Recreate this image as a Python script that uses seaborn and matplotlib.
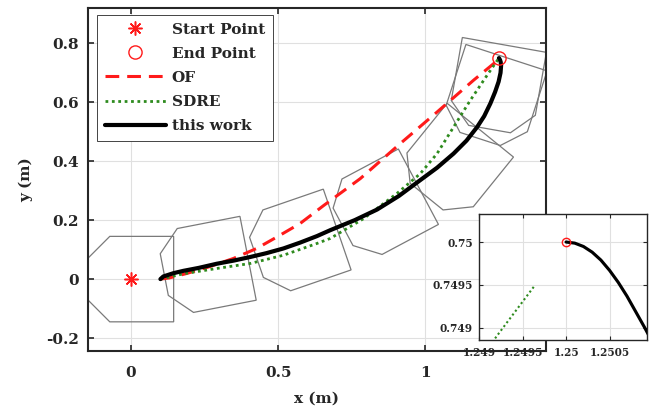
import numpy as np
import pandas as pd
import matplotlib
matplotlib.use("Agg")
import matplotlib.pyplot as plt
import seaborn as sns
from matplotlib.lines import Line2D
from matplotlib.patches import Polygon
from matplotlib.ticker import FuncFormatter

# ---------------- data ----------------
start_x, start_y = 0.0, 0.0
end_x, end_y = 1.25, 0.75

of_x = [0.100, 0.130, 0.189, 0.260, 0.348, 0.427, 0.496, 0.575, 0.655, 0.779, 0.915, 1.040, 1.164, 1.238]
of_y = [0.000, 0.004, 0.019, 0.040, 0.070, 0.104, 0.143, 0.189, 0.250, 0.341, 0.460, 0.567, 0.675, 0.736]

sdre_x = [0.100, 0.110, 0.178, 0.291, 0.405, 0.518, 0.632, 0.677, 0.790, 0.904, 0.983, 1.040,
          1.096, 1.153, 1.210, 1.2492, 1.24963]
sdre_y = [0.000, 0.002, 0.018, 0.036, 0.053, 0.081, 0.121, 0.138, 0.205, 0.291, 0.358, 0.426,
          0.516, 0.607, 0.692, 0.7489, 0.74948]

tw_x = [0.100, 0.110, 0.144, 0.178, 0.230, 0.291, 0.350, 0.405, 0.460, 0.518, 0.575, 0.632,
        0.677, 0.760, 0.836, 0.910, 0.983, 1.040, 1.096, 1.140, 1.176, 1.200, 1.221, 1.237,
        1.249, 1.2555, 1.2575, 1.2560, 1.2540, 1.2525, 1.2510,
        1.2509, 1.2508, 1.2507, 1.2506, 1.2505, 1.2504, 1.2503, 1.2502, 1.2501, 1.2500]
tw_y = [0.000, 0.009, 0.020, 0.028, 0.038, 0.052, 0.063, 0.075, 0.088, 0.104, 0.124, 0.146,
        0.166, 0.200, 0.236, 0.282, 0.336, 0.378, 0.426, 0.470, 0.516, 0.553, 0.596, 0.635,
        0.670, 0.700, 0.725, 0.7370, 0.7432, 0.7462, 0.74882,
        0.749010, 0.749190, 0.749370, 0.749530, 0.749670, 0.749790, 0.749882, 0.749948,
        0.749987, 0.750000]

# robot poses (centre x, centre y, heading in degrees) and body outline
robot_x = [0.0, 0.2555, 0.5635, 0.8485, 1.0956, 1.231, 1.2434]
robot_y = [0.0, 0.043, 0.121, 0.2455, 0.3927, 0.6135, 0.6519]
robot_heading = [0, 11, 19, 28, 51, 72, 80]
body_x = [0.145, -0.072, -0.145, -0.145, -0.072, 0.145]
body_y = [0.145, 0.145, 0.072, -0.072, -0.145, -0.145]

x_ticks = [0, 0.5, 1]
y_ticks = [-0.2, 0, 0.2, 0.4, 0.6, 0.8]
inset_x_ticks = [1.249, 1.2495, 1.25, 1.2505]
inset_y_ticks = [0.749, 0.7495, 0.75]

labels = ["Start Point", "End Point", "OF", "SDRE", "this work"]

# ---------------- style ----------------
sns.set_theme(style="white")
plt.rcParams["font.family"] = ["DejaVu Serif"]
plt.rcParams["font.weight"] = "bold"
plt.rcParams["axes.labelweight"] = "bold"
plt.rcParams["axes.unicode_minus"] = False

FS = 11
C_RED = "#ff1a1a"
C_GREEN = "#2e8b1e"
C_GREY = "#7a7a7a"
C_AX = "#262626"
C_GRID = "#e0e0e0"

fig = plt.figure(figsize=(6.56, 4.16), dpi=100)
ax = fig.add_axes([88 / 656, 1 - 351 / 416, (546 - 88) / 656, (351 - 8) / 416])

fmt = FuncFormatter(lambda v, p: "%g" % round(v, 6))


def style_axes(a, fs, lw, ticklen, xpad, ypad):
    for s in a.spines.values():
        s.set_visible(True)
        s.set_color(C_AX)
        s.set_linewidth(lw)
    a.tick_params(direction="in", length=ticklen, width=lw * 0.8, colors=C_AX,
                  labelsize=fs, top=True, right=True, bottom=True, left=True)
    a.tick_params(axis="x", pad=xpad)
    a.tick_params(axis="y", pad=ypad)
    a.grid(True, color=C_GRID, lw=0.8)
    a.set_axisbelow(True)
    a.xaxis.set_major_formatter(fmt)
    a.yaxis.set_major_formatter(fmt)
    for t in a.get_xticklabels() + a.get_yticklabels():
        t.set_fontweight("bold")


def draw_robots(a):
    bx = np.array(body_x)
    by = np.array(body_y)
    for cx, cy, hd in zip(robot_x, robot_y, robot_heading):
        th = np.deg2rad(hd)
        px = cx + bx * np.cos(th) - by * np.sin(th)
        py = cy + bx * np.sin(th) + by * np.cos(th)
        a.add_patch(Polygon(np.column_stack([px, py]), closed=True, fill=False,
                            edgecolor=C_GREY, lw=0.9, zorder=2))


def draw_paths(a, msize_end, scale):
    sns.lineplot(x=of_x, y=of_y, sort=False, estimator=None, ax=a, color=C_RED,
                 lw=2.2 * scale, linestyle=(0, (4.5, 2.6)), zorder=3)
    sns.lineplot(x=sdre_x, y=sdre_y, sort=False, estimator=None, ax=a, color=C_GREEN,
                 lw=2.0 * scale, linestyle=(0, (1.0, 1.3)), zorder=3)
    sns.lineplot(x=tw_x, y=tw_y, sort=False, estimator=None, ax=a, color="black",
                 lw=3.0 * scale, zorder=4)
    a.plot([end_x], [end_y], marker="o", ms=msize_end, mfc="none", mec=C_RED,
           mew=1.0, ls="none", zorder=5)


# ---------------- main axes ----------------
draw_robots(ax)
draw_paths(ax, 9.5, 1.0)
ax.plot([start_x], [start_y], marker=(8, 2, 0), ms=10, mec=C_RED, mew=1.1,
        ls="none", zorder=5)

ax.set_xlim(-0.146, 1.41)
ax.set_ylim(-0.244, 0.92)
ax.set_xticks(x_ticks)
ax.set_yticks(y_ticks)
style_axes(ax, FS, 1.5, 4.0, 10.5, 6.5)
ax.set_xlabel("x (m)", fontsize=FS, fontweight="bold", labelpad=9, color=C_AX)
ax.set_ylabel("y (m)", fontsize=FS, fontweight="bold", labelpad=9, color=C_AX)

handles = [
    Line2D([], [], ls="none", marker=(8, 2, 0), ms=10, mec=C_RED, mew=1.1),
    Line2D([], [], ls="none", marker="o", ms=9.5, mfc="none", mec=C_RED, mew=1.0),
    Line2D([], [], color=C_RED, lw=2.2, linestyle=(0, (4.5, 2.6))),
    Line2D([], [], color=C_GREEN, lw=2.0, linestyle=(0, (1.0, 1.3))),
    Line2D([], [], color="black", lw=3.0),
]
leg = ax.legend(handles, labels, loc="upper left",
                bbox_to_anchor=((97 - 88) / 458, 1 - (15 - 8) / 343),
                borderaxespad=0, fontsize=FS, handlelength=4.0, handletextpad=0.4,
                borderpad=0.5, labelspacing=0.66, frameon=True, fancybox=False,
                framealpha=1, edgecolor=C_AX)
leg.get_frame().set_linewidth(0.6)
for t in leg.get_texts():
    t.set_fontweight("bold")
    t.set_color(C_AX)

# ---------------- inset ----------------
ins = fig.add_axes([479 / 656, 1 - 340 / 416, (647 - 479) / 656, (340 - 214) / 416])
ins.set_facecolor("white")
ins.set_zorder(10)
draw_paths(ins, 6, 0.75)
ins.set_xlim(1.249, 1.25093)
ins.set_ylim(0.74886, 0.750326)
ins.set_xticks(inset_x_ticks)
ins.set_yticks(inset_y_ticks)
style_axes(ins, 7.6, 1.0, 3.0, 5.0, 4.5)
ins.set_xlabel("")
ins.set_ylabel("")
if ins.get_legend():
    ins.get_legend().remove()

fig.savefig("out.png", dpi=100)
